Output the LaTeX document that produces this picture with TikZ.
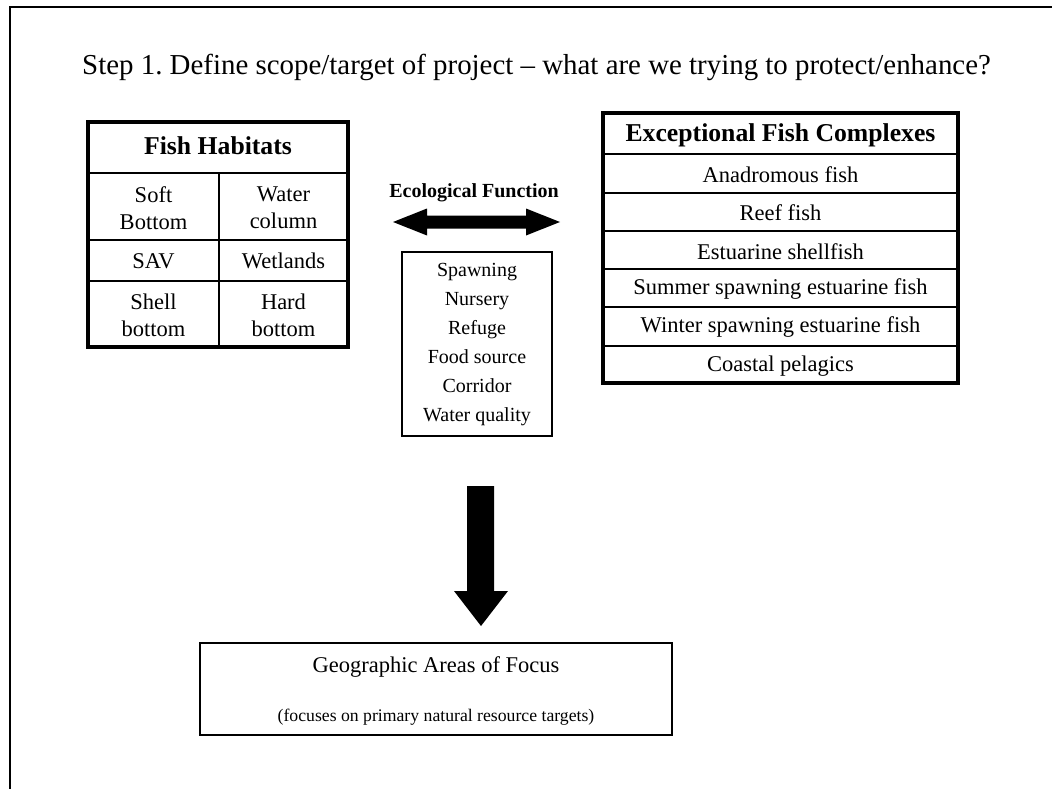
\documentclass[tikz,border=0pt]{standalone}
\usepackage{fontspec}
\setmainfont{Liberation Serif}
\frenchspacing
\begin{document}
\begin{tikzpicture}[x=1pt,y=-1pt,
  thickbox/.style={draw=black,line width=3.5pt},
  thinline/.style={draw=black,line width=1.3pt},
  cell/.style={inner sep=0pt,align=center,font=\fontsize{22.5}{27}\selectfont},
  headtxt/.style={inner sep=0pt,font=\fontsize{25.7}{30}\selectfont\bfseries},
  functxt/.style={inner sep=0pt,font=\fontsize{20}{29}\selectfont},
  blockarrow/.style={fill=black,draw=none}]
\useasboundingbox (0,0) rectangle (1052,789);
% outer frame (cropped)
\draw[line width=2pt] (10,789) -- (10,7) -- (1052,7);
% title
\node[anchor=west,inner sep=0pt,font=\fontsize{28.9}{34}\selectfont\frenchspacing] (title) at (82,67) {Step 1. Define scope/target of project -- what are we trying to protect/enhance?};
% Fish Habitats table
\draw[thinline] (88,173) -- (348,173);
\draw[thinline] (219,173) -- (219,347);
\draw[thinline] (88,240) -- (348,240);
\draw[thinline] (88,281) -- (348,281);
\draw[thickbox] (88,122) rectangle (348,347);
\node[headtxt] (fh) at (218,146) {Fish Habitats};
\node[cell] (soft) at (153.5,208) {Soft\\Bottom};
\node[cell] (water) at (283.5,208) {Water\\column};
\node[cell] (sav) at (153.5,261) {SAV};
\node[cell] (wet) at (283.5,261) {Wetlands};
\node[cell] (shell) at (153.5,315) {Shell\\bottom};
\node[cell] (hard) at (283.5,315) {Hard\\bottom};
% Exceptional Fish Complexes table
\foreach \yy in {154,193,231,269,307,346} \draw[thinline] (603,\yy) -- (958,\yy);
\draw[thickbox] (603,113) rectangle (958,383);
\node[headtxt] (efc) at (780.5,135) {Exceptional Fish Complexes};
\node[cell] (e1) at (780.5,175) {Anadromous fish};
\node[cell] (e2) at (780.5,213) {Reef fish};
\node[cell] (e3) at (780.5,251.5) {Estuarine shellfish};
\node[cell] (e4) at (780.5,289.5) {Summer spawning estuarine fish};
\node[cell] (e5) at (780.5,327.5) {Winter spawning estuarine fish};
\node[cell] (e6) at (780.5,366) {Coastal pelagics};
% Ecological function
\node[inner sep=0pt,font=\fontsize{20}{24}\selectfont\bfseries] (eflab) at (474,193) {Ecological Function};
\fill[blockarrow] (393,222) -- (427,208.5) -- (427,215.5) -- (526,215.5) -- (526,208.5) -- (560,222) -- (526,235.5) -- (526,228.5) -- (427,228.5) -- (427,235.5) -- cycle;
\draw[line width=1.5pt] (402,252) rectangle (552,436);
\node[functxt,align=center] (funcs) at (477,345) {Spawning\\Nursery\\Refuge\\Food source\\Corridor\\Water quality};
% down arrow
\fill[blockarrow] (467,486) -- (494,486) -- (494,591) -- (508,591) -- (481,626) -- (454,591) -- (467,591) -- cycle;
% Geographic box
\draw[line width=1.8pt] (200,643) rectangle (672,735);
\node[inner sep=0pt,font=\fontsize{22.5}{27}\selectfont] (geo) at (436,667) {Geographic Areas of Focus};
\node[inner sep=0pt,font=\fontsize{17.7}{21}\selectfont] (geosub) at (436,717) {(focuses on primary natural resource targets)};
\end{tikzpicture}
\end{document}
